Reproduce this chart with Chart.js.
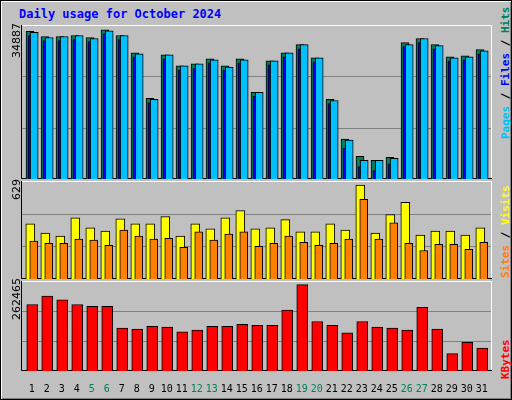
<!DOCTYPE html>
<html><head><meta charset="utf-8">
<script src="https://cdn.jsdelivr.net/npm/chart.js@4"></script>
<style>
body{margin:0;background:#c0c0c0}
#wrap{position:relative;width:512px;height:400px;background:#c0c0c0;box-sizing:border-box;border:1px solid #000;box-shadow:inset 1px 1px 0 #fff,inset -1px -1px 0 #808080;overflow:hidden;font-family:"DejaVu Sans Mono",monospace}
canvas{position:absolute}
.t{position:absolute;left:18px;top:6px;color:#0000ff;font-weight:bold;font-size:12px}
.r{position:absolute;white-space:nowrap;transform-origin:0 0;transform:rotate(-90deg);font-size:11px;font-weight:bold}
.m{position:absolute;white-space:nowrap;transform-origin:0 0;transform:rotate(-90deg);font-size:11px;font-family:"DejaVu Sans",sans-serif}
</style></head><body>
<div id="wrap">
<div class="t">Daily usage for October 2024</div>
<canvas id="c1" style="left:20px;top:24px"></canvas>
<canvas id="c2" style="left:20px;top:180px"></canvas>
<canvas id="c3" style="left:20px;top:280px"></canvas>
<div class="m" style="left:9px;top:57px">34887</div>
<div class="m" style="left:9px;top:199px">629</div>
<div class="m" style="left:9px;top:319px">262465</div>
<div class="r" style="left:498px;top:138px"><span style="color:#00c0ff">Pages</span> / <span style="color:#0000ff">Files</span> / <span style="color:#00805c">Hits</span></div>
<div class="r" style="left:498px;top:277px"><span style="color:#ff8000">Sites</span> / <span style="color:#ffff00">Visits</span></div>
<div class="r" style="left:498px;top:378px"><span style="color:#ff0000">KBytes</span></div>
</div>
<script>
const days = Array.from({length:31},(_,i)=>i+1);
const weekend = [5,6,12,13,19,20,26,27];
const hits = [34490,33300,33300,33540,33070,34887,33540,29500,18830,29030,26420,26890,28080,26420,28080,20250,27610,29500,31400,28320,18590,9330,5300,4350,5060,31880,32830,31400,28560,28790,30220];
const files = [33540,32350,32350,32590,32120,33940,32590,28550,17880,28080,25470,25940,27130,25470,27130,19300,26660,28550,30450,27370,17640,7200,2930,1980,3520,30930,31880,30450,27610,27840,29270];
const pages = [34250,33060,33300,33540,32830,34650,33540,29260,18590,29030,26420,26890,27840,26180,27840,20250,27610,29500,31400,28320,18350,9090,4350,4350,4820,31400,32830,31160,28320,28560,29980];
const visits = [369,308,287,410,342,321,403,369,369,417,287,369,335,410,458,335,342,397,315,315,369,328,629,308,431,513,294,321,321,294,342];
const sites = [253,239,239,267,260,226,328,287,267,273,212,315,260,301,315,219,239,287,246,226,239,267,533,267,376,239,191,232,232,198,246];
const kbytes = [202110,227980,216480,202110,196370,196370,130270,127400,136020,133150,118780,124530,136020,136020,141770,138900,138900,184870,262465,150390,138900,115910,150390,133150,130270,124530,193500,127400,52680,87170,69930];

// bars sit slightly apart within each day, webalizer style
const pts = (vals, shift) => vals.map((v,i)=>({x:days[i]+shift, y:v}));

// panel background, full-width gridlines and 3d frame
const panel = {
  id:'panel',
  beforeDatasetsDraw(chart){
    const c = chart.ctx, y = chart.scales.y, w = chart.width, top = y.top, bot = y.bottom;
    c.save();
    c.strokeStyle = '#808080'; c.lineWidth = 1;
    for (let k=1;k<3;k++){
      const py = Math.round(y.getPixelForValue(y.max*k/3))+0.5;
      c.beginPath(); c.moveTo(0,py); c.lineTo(w,py); c.stroke();
    }
    c.strokeStyle = '#fff';
    c.beginPath(); c.moveTo(0,top+0.5); c.lineTo(w-0.5,top+0.5); c.lineTo(w-0.5,bot); c.stroke();
    c.strokeStyle = '#000';
    c.beginPath(); c.moveTo(0.5,top); c.lineTo(0.5,bot-0.5); c.lineTo(w,bot-0.5); c.stroke();
    c.restore();
  }
};

function make(id, h, datasets, max, showX){
  const el = document.getElementById(id);
  el.width = 471; el.height = h;
  el.style.width = '471px'; el.style.height = h+'px';
  return new Chart(el, {
    type:'bar',
    data:{datasets},
    options:{
      responsive:false, animation:false,
      devicePixelRatio:1,
      layout:{padding:0},
      plugins:{legend:{display:false}, tooltip:{enabled:false}},
      datasets:{bar:{grouped:false, borderColor:'#000', borderWidth:1}},
      scales:{
        x:{type:'linear', min:0.28, max:31.68, offset:false, display:showX,
           grid:{display:false}, border:{display:false},
           afterBuildTicks(s){ s.ticks = days.map(d=>({value:d})); },
           ticks:{padding:4, maxRotation:0, autoSkip:false, font:{family:'DejaVu Sans Mono', size:10},
                  callback:v=>String(v),
                  color:ctx=>weekend.includes(ctx.tick.value)?'#00805c':'#000'}},
        y:{min:0, max:max, display:true, grid:{display:false, drawTicks:false}, border:{display:false},
           ticks:{display:false}, afterFit(s){s.width=0;}}
      }
    },
    plugins:[panel]
  });
}

make('c1', 154, [
  {data:pts(pages,0.16), backgroundColor:'#00c0ff', barThickness:8},
  {data:pts(files,0.01), backgroundColor:'#0000ff', barThickness:8},
  {data:pts(hits,-0.12), backgroundColor:'#00805c', barThickness:8}
], 35990, false);

make('c2', 98, [
  {data:pts(sites,0.13), backgroundColor:'#ff8000', barThickness:8},
  {data:pts(visits,-0.1), backgroundColor:'#ffff00', barThickness:9}
], 656, false);

make('c3', 118, [
  {data:pts(kbytes,0.03), backgroundColor:'#ff0000', barThickness:11}
], 273600, true);
</script>
</body></html>
